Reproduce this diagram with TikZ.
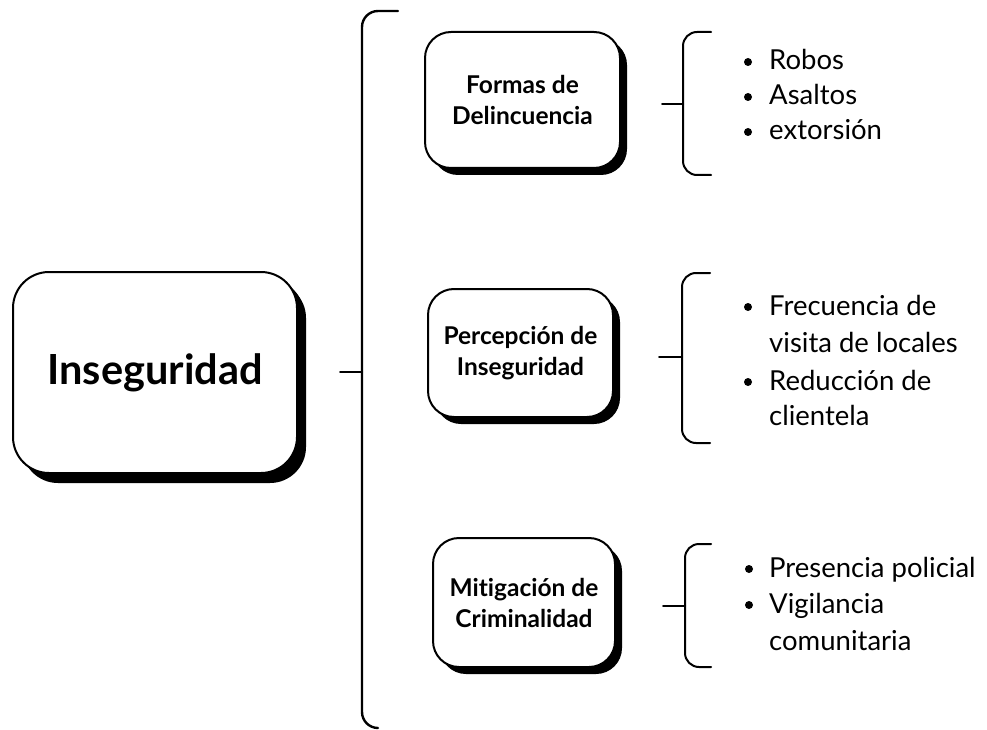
\documentclass[tikz,border=0pt]{standalone}
\usepackage{fontspec}
\setmainfont[Ligatures={NoCommon,NoRare}]{Lato}
\usetikzlibrary{shadows}
\begin{document}
\begin{tikzpicture}[x=1pt,y=-1pt,
  box/.style={draw=black,line width=2pt,fill=white,rounded corners=26pt,align=center,
    inner sep=0pt,font=\bfseries\fontsize{24.5}{31}\selectfont,
    drop shadow={shadow xshift=7pt,shadow yshift=-7pt,fill=black,opacity=1,shadow scale=1}},
  mainbox/.style={box,rounded corners=36pt,font=\bfseries\fontsize{41.5}{44}\selectfont,
    drop shadow={shadow xshift=9pt,shadow yshift=-10pt,fill=black,opacity=1,shadow scale=1}},
  ln/.style={line width=2pt,line cap=round},
  brk/.style={ln,rounded corners=14pt},
  bigbrk/.style={ln,line width=2.4pt,rounded corners=16pt},
  item/.style={anchor=base west,inner sep=0pt,font=\fontsize{27.5}{36}\selectfont},
  dot/.style={circle,fill=black,inner sep=0pt,minimum size=8pt}
]
\useasboundingbox (0,0) rectangle (987,730);
\fill[white] (0,0) rectangle (987,730);

% main box
\node[mainbox,minimum width=284pt,minimum height=201pt] (main) at (155,372.5) {Inseguridad};

% big bracket
\coordinate (mt1) at (340,372);
\coordinate (mt2) at (362,372);
\coordinate (bt) at (398,11);
\coordinate (btc) at (362,11);
\coordinate (bbc) at (362,728);
\coordinate (bb) at (378,728);
\draw[ln] (mt1) -- (mt2);
\draw[bigbrk] (bt) -- (btc) -- (bbc) -- (bb);

% sub boxes
\node[box,minimum width=195pt,minimum height=136pt] (b1) at (522.5,100) {Formas de\\Delincuencia};
\node[box,minimum width=185pt,minimum height=128pt] (b2) at (520.5,353) {Percepción de\\Inseguridad};
\node[box,minimum width=182pt,minimum height=129pt] (b3) at (524,602.5) {Mitigación de\\Criminalidad};

% bracket 1
\coordinate (t1a) at (662,104);
\coordinate (t1b) at (683,104);
\coordinate (k1a) at (711,32);
\coordinate (k1b) at (683,32);
\coordinate (k1c) at (683,175);
\coordinate (k1d) at (711,175);
\draw[ln] (t1a) -- (t1b);
\draw[brk] (k1a) -- (k1b) -- (k1c) -- (k1d);

% bracket 2
\coordinate (t2a) at (659,357);
\coordinate (t2b) at (682,357);
\coordinate (k2a) at (710,273);
\coordinate (k2b) at (682,273);
\coordinate (k2c) at (682,443);
\coordinate (k2d) at (710,443);
\draw[ln] (t2a) -- (t2b);
\draw[brk] (k2a) -- (k2b) -- (k2c) -- (k2d);

% bracket 3
\coordinate (t3a) at (663,606);
\coordinate (t3b) at (685,606);
\coordinate (k3a) at (711,544);
\coordinate (k3b) at (685,544);
\coordinate (k3c) at (685,667);
\coordinate (k3d) at (711,667);
\draw[ln] (t3a) -- (t3b);
\draw[brk] (k3a) -- (k3b) -- (k3c) -- (k3d);

% items 1
\node[dot] (d11) at (748,62) {};
\node[item] (i11) at (769,70) {Robos};
\node[dot] (d12) at (748,97) {};
\node[item] (i12) at (769,105) {Asaltos};
\node[dot] (d13) at (748,132) {};
\node[item] (i13) at (769,140) {extorsión};

% items 2
\node[dot] (d21) at (748,307) {};
\node[item] (i21) at (769,315) {Frecuencia de};
\node[item] (i21b) at (769,352) {visita de locales};
\node[dot] (d22) at (748,382) {};
\node[item] (i22) at (769,390) {Reducción de};
\node[item] (i22b) at (769,425) {clientela};

% items 3
\node[dot] (d31) at (749,569) {};
\node[item] (i31) at (769,577) {Presencia policial};
\node[dot] (d32) at (749,605) {};
\node[item] (i32) at (769,613) {Vigilancia};
\node[item] (i32b) at (769,650) {comunitaria};
\end{tikzpicture}
\end{document}
